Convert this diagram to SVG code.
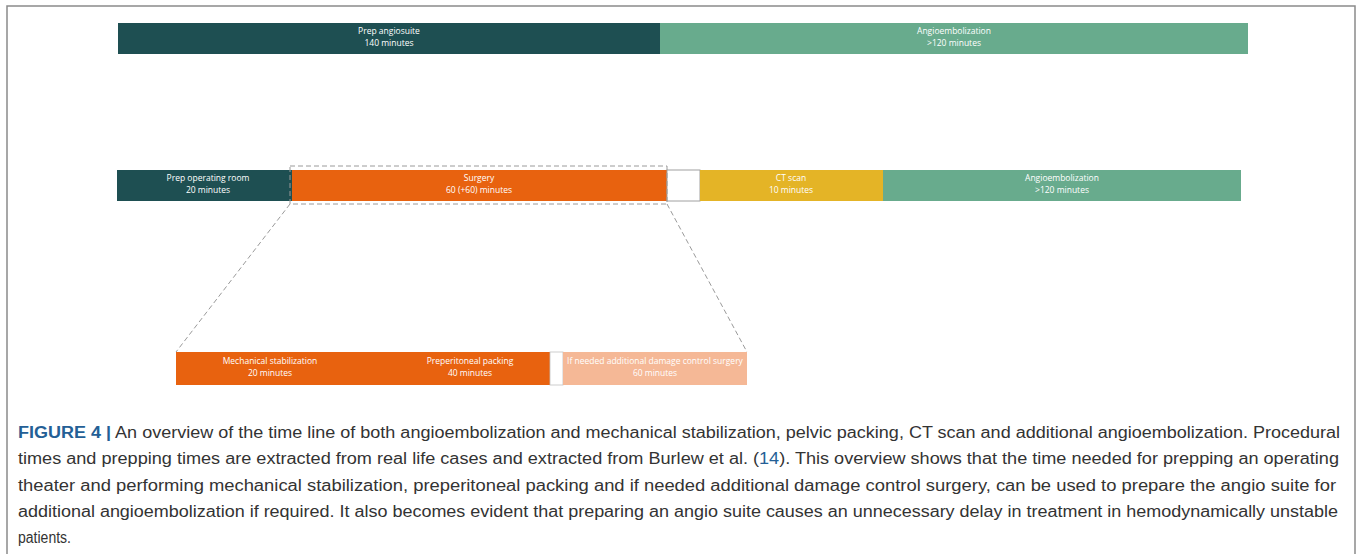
<svg xmlns="http://www.w3.org/2000/svg" width="1358" height="554" viewBox="0 0 1358 554">
<style>
.lbl{font-family:"Open Sans","Liberation Sans",sans-serif;font-size:8.5px;fill:#ffffff;text-anchor:middle}
.cap{font-family:"Liberation Sans",Arial,sans-serif;font-size:16px;fill:#333333}
.dash{fill:none;stroke:#9a9a9a;stroke-width:1;stroke-dasharray:5,3}
</style>
<rect x="7" y="6" width="1348" height="560" fill="#ffffff" stroke="#8a8a8a" stroke-width="1.5"/>
<g id="prep-angiosuite"><rect x="118" y="23" width="542" height="31" fill="#1e4f52"/><text class="lbl" x="389" y="34">Prep angiosuite</text><text class="lbl" x="389" y="46">140 minutes</text></g>
<g id="angio-top"><rect x="660" y="23" width="588" height="31" fill="#68ab8d"/><text class="lbl" x="954" y="34">Angioembolization</text><text class="lbl" x="954" y="46">&gt;120 minutes</text></g>
<g id="prep-or"><rect x="117" y="170" width="175" height="31" fill="#1e4f52"/><text class="lbl" x="208" y="181">Prep operating room</text><text class="lbl" x="208" y="193">20 minutes</text></g>
<g id="surgery"><rect x="292" y="170" width="375" height="31" fill="#e8620f"/><text class="lbl" x="479" y="181">Surgery</text><text class="lbl" x="479" y="193">60 (+60) minutes</text></g>
<g id="gap-mid"><rect x="667" y="170" width="33" height="31" fill="#ffffff" stroke="#a0a0a0" stroke-width="1"/></g>
<g id="ct"><rect x="700" y="170" width="183" height="31" fill="#e4b426"/><text class="lbl" x="791" y="181">CT scan</text><text class="lbl" x="791" y="193">10 minutes</text></g>
<g id="angio-mid"><rect x="883" y="170" width="358" height="31" fill="#68ab8d"/><text class="lbl" x="1062" y="181">Angioembolization</text><text class="lbl" x="1062" y="193">&gt;120 minutes</text></g>
<g id="mech"><rect x="176" y="352" width="374" height="33" fill="#e8620f"/><text class="lbl" x="270" y="364">Mechanical stabilization</text><text class="lbl" x="270" y="376">20 minutes</text><text class="lbl" x="470" y="364">Preperitoneal packing</text><text class="lbl" x="470" y="376">40 minutes</text></g>
<g id="gap-bot"><rect x="550" y="352" width="13" height="33" fill="#ffffff" stroke="#c0c0c0" stroke-width="0.8"/></g>
<g id="damage"><rect x="563" y="352" width="184" height="33" fill="#f5b896"/><text class="lbl" x="655" y="364">If needed additional damage control surgery</text><text class="lbl" x="655" y="376">60 minutes</text></g>
<g id="connectors">
<rect class="dash" x="290" y="166" width="377" height="38"/>
<line class="dash" x1="290" y1="204" x2="176" y2="352"/>
<line class="dash" x1="667" y1="204" x2="747" y2="352"/>
</g>
<g id="caption">
<text class="cap" x="18" y="438" textLength="1322" lengthAdjust="spacingAndGlyphs"><tspan font-weight="bold" fill="#245f96">FIGURE 4 |</tspan> An overview of the time line of both angioembolization and mechanical stabilization, pelvic packing, CT scan and additional angioembolization. Procedural</text>
<text class="cap" x="18" y="464" textLength="1321" lengthAdjust="spacingAndGlyphs">times and prepping times are extracted from real life cases and extracted from Burlew et al. (<tspan fill="#245f96">14</tspan>). This overview shows that the time needed for prepping an operating</text>
<text class="cap" x="18" y="491" textLength="1318" lengthAdjust="spacingAndGlyphs">theater and performing mechanical stabilization, preperitoneal packing and if needed additional damage control surgery, can be used to prepare the angio suite for</text>
<text class="cap" x="18" y="517" textLength="1320" lengthAdjust="spacingAndGlyphs">additional angioembolization if required. It also becomes evident that preparing an angio suite causes an unnecessary delay in treatment in hemodynamically unstable</text>
<text class="cap" x="18" y="543" textLength="53" lengthAdjust="spacingAndGlyphs">patients.</text>
</g>
</svg>
